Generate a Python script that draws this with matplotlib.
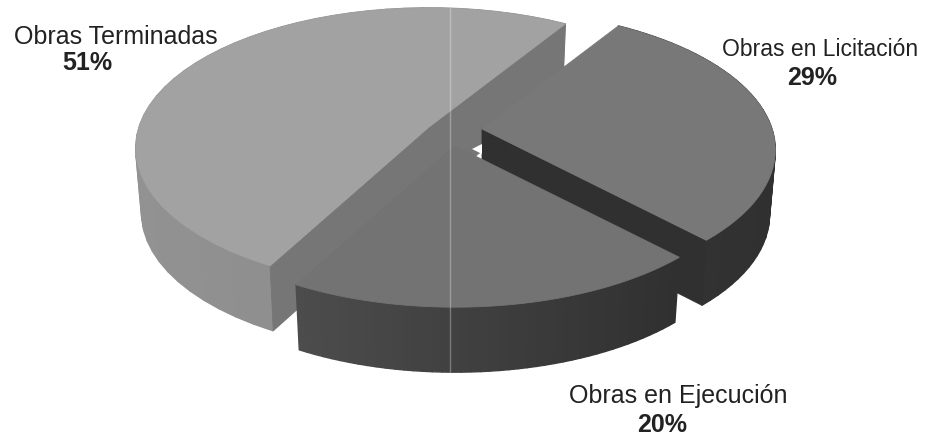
import numpy as np
import matplotlib
matplotlib.use('Agg')
import matplotlib.pyplot as plt

plt.rcParams['font.family'] = ['Liberation Sans', 'DejaVu Sans']

# datos del grafico
labels = ['Obras Terminadas', 'Obras en Licitación', 'Obras en Ejecución']
values = [51, 29, 20]

# estilo de cada porcion: centro en pixeles y grises
centers = [(429, 128), (482, 130), (455, 147)]
top_colors = ['#a2a2a2', '#787878', '#737373']
wall_left = ['#929292', '#343434', '#4c4c4c']
wall_right = ['#868686', '#303030', '#303030']
start_angle = 58.0

A, B, P = 290.0, 137.0, 0.15  # radios de la elipse y perspectiva
DEPTH = 65.0


def project(center, ang):
    ang = np.radians(ang)
    u, v = np.cos(ang), np.sin(ang)
    w = 1 + P * v
    return center[0] + A * u / w, center[1] - B * v / w


def drop(center, x, y):
    # la base se ve un poco mas angosta que la cara de arriba
    return center[0] + (x - center[0]) * 0.98, y + DEPTH


def wall(ax, pts0, pts1, c):
    xs = [pts0[0], pts1[0], pts1[2], pts0[2]]
    ys = [pts0[1], pts1[1], pts1[3], pts0[3]]
    ax.fill(xs, ys, color=c, lw=1.0)


fig = plt.figure(figsize=(9.42, 4.39), dpi=100)
ax = fig.add_axes([0, 0, 1, 1])
ax.set_xlim(0, 942)
ax.set_ylim(439, 0)
ax.axis('off')

# angulos a partir de los valores: Terminadas antihorario desde start, las otras horario
spans = [(start_angle, start_angle + values[0] * 3.6),
         (start_angle - values[1] * 3.6, start_angle),
         (start_angle - (values[1] + values[2]) * 3.6, start_angle - values[1] * 3.6)]

for i in range(3):
    c = centers[i]
    a0, a1 = spans[i]
    angs = np.linspace(a0, a1, 45)
    x, y = project(c, angs)
    bx, by = drop(c, x, y)

    # pared curva, con degradado de izquierda a derecha
    left = np.array(matplotlib.colors.to_rgb(wall_left[i]))
    right = np.array(matplotlib.colors.to_rgb(wall_right[i]))
    for j in range(len(angs) - 1):
        t = (x[j] - x.min()) / (x.max() - x.min())
        wall(ax, (x[j], y[j], bx[j], by[j]), (x[j + 1], y[j + 1], bx[j + 1], by[j + 1]),
             left + (right - left) * t)

    # caras de corte visibles
    cbx, cby = drop(c, c[0], c[1])
    if i == 0:
        ax.fill([x[-1], c[0], x[0], bx[0], cbx, bx[-1]],
                [y[-1], c[1], y[0], by[0], cby, by[-1]], color='#767676', lw=0.6)
    if i == 1:
        ax.fill([c[0], x[0], bx[0], cbx], [c[1], y[0], by[0], cby], color='#303030', lw=0.6)
        # huequito blanco junto al centro
        ax.fill([c[0], c[0] - 10, c[0]], [c[1] + 15, c[1] + 20, c[1] + 25], color='white', lw=0)

    # cara de arriba
    ax.fill(np.r_[c[0], x], np.r_[c[1], y], color=top_colors[i], lw=0.6)

# linea vertical clara que cruza la torta
ax.plot([450, 450], [9, 374], color='white', alpha=0.3, lw=1)

fs = 18
ax.text(116, 37, labels[0], fontsize=fs, ha='center', va='center', color='#222222')
ax.text(87, 63, f'{values[0]}%', fontsize=fs, ha='center', va='center', weight='bold', color='#222222')
ax.text(820, 50, labels[1], fontsize=16.5, ha='center', va='center', color='#222222')
ax.text(812, 78, f'{values[1]}%', fontsize=fs, ha='center', va='center', weight='bold', color='#222222')
ax.text(678, 396, labels[2], fontsize=fs, ha='center', va='center', color='#222222')
ax.text(662, 425, f'{values[2]}%', fontsize=fs, ha='center', va='center', weight='bold', color='#222222')

fig.savefig('out.png', dpi=100)
